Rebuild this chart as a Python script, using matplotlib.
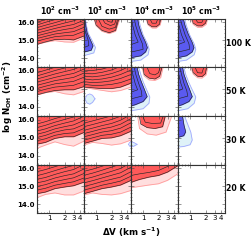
import matplotlib
matplotlib.use("Agg")
import matplotlib.pyplot as plt
from matplotlib.ticker import MultipleLocator, FixedLocator, NullFormatter

plt.rcParams['font.family'] = 'DejaVu Sans'
plt.rcParams['mathtext.default'] = 'bf'

densities = [r'10$^2$ cm$^{-3}$', r'10$^3$ cm$^{-3}$', r'10$^4$ cm$^{-3}$', r'10$^5$ cm$^{-3}$']
temperatures = ['100 K', '50 K', '30 K', '20 K']

# log N(OH) where the red sheets start, read at these line widths
DV = [0.58, 0.85, 1.3, 2.0, 3.0, 4.8]

red_edge = {
    (0, 0): [14.78, 14.91, 15.04, 15.06, 15.02, 15.24],
    (1, 0): [14.67, 14.80, 14.91, 14.95, 14.95, 15.13],
    (1, 1): [15.10, 15.06, 15.02, 15.02, 15.10, 15.32],
    (2, 0): [14.63, 14.73, 14.95, 15.04, 15.04, 15.28],
    (2, 1): [14.67, 14.80, 14.95, 14.98, 15.10, 15.35],
    (3, 0): [14.58, 14.67, 14.86, 14.95, 15.02, 15.22],
    (3, 1): [14.58, 14.71, 14.86, 14.95, 15.06, 15.32],
    (3, 2): [15.21, 15.37, 15.50, 15.59, 15.78, 16.14],
}
pink_edge = {
    (0, 0): [14.78, 14.90, 14.98, 14.91, 14.89, 15.13],
    (1, 0): [14.67, 14.79, 14.86, 14.73, 14.67, 14.86],
    (1, 1): [15.08, 15.0, 14.92, 14.84, 14.91, 15.10],
    (2, 0): [14.40, 14.58, 14.76, 14.61, 14.52, 14.80],
    (2, 1): [14.58, 14.73, 14.67, 14.58, 14.65, 14.86],
    (3, 0): [14.36, 14.54, 14.62, 14.51, 14.51, 14.73],
    (3, 1): [14.51, 14.62, 14.54, 14.51, 14.58, 14.76],
    (3, 2): [14.91, 14.98, 15.06, 15.13, 15.32, 15.69],
}
red_lines = {
    (0, 0): [[14.95, 15.08, 15.20, 15.25, 15.28, 15.50],
             [15.10, 15.22, 15.35, 15.42, 15.48, 15.72],
             [15.25, 15.37, 15.50, 15.60, 15.68, 15.92],
             [15.40, 15.52, 15.66, 15.78, 15.88, 16.12],
             [15.55, 15.68, 15.82, 15.96, 16.08, 16.30],
             [15.70, 15.84, 15.98, 16.14, 16.28, 16.50],
             [15.85, 16.00, 16.15, 16.32, 16.50, 16.70],
             [16.00, 16.15, 16.30, 16.50, 16.70, 16.90]],
    (1, 0): [[14.85, 14.98, 15.10, 15.15, 15.20, 15.40],
             [15.02, 15.15, 15.28, 15.35, 15.42, 15.65],
             [15.20, 15.32, 15.46, 15.55, 15.64, 15.88],
             [15.38, 15.50, 15.64, 15.76, 15.86, 16.10],
             [15.55, 15.68, 15.83, 15.96, 16.08, 16.32],
             [15.72, 15.86, 16.02, 16.16, 16.30, 16.50],
             [15.90, 16.04, 16.20, 16.36, 16.50, 16.70]],
    (1, 1): [[15.25, 15.20, 15.20, 15.25, 15.35, 15.55],
             [15.40, 15.35, 15.38, 15.45, 15.58, 15.80],
             [15.55, 15.50, 15.55, 15.65, 15.80, 16.05],
             [15.70, 15.67, 15.73, 15.85, 16.02, 16.30],
             [15.85, 15.84, 15.92, 16.05, 16.25, 16.50],
             [16.00, 16.02, 16.10, 16.25, 16.45, 16.70]],
    (2, 0): [[14.82, 14.93, 15.12, 15.22, 15.26, 15.50],
             [15.00, 15.12, 15.30, 15.42, 15.48, 15.72],
             [15.18, 15.30, 15.48, 15.60, 15.70, 15.95],
             [15.36, 15.48, 15.66, 15.80, 15.92, 16.18],
             [15.55, 15.68, 15.85, 16.00, 16.14, 16.40],
             [15.75, 15.88, 16.05, 16.20, 16.36, 16.60]],
    (2, 1): [[14.85, 14.98, 15.12, 15.18, 15.30, 15.58],
             [15.04, 15.16, 15.30, 15.38, 15.52, 15.82],
             [15.22, 15.34, 15.48, 15.58, 15.74, 16.05],
             [15.40, 15.52, 15.66, 15.78, 15.96, 16.28],
             [15.60, 15.72, 15.86, 16.00, 16.18, 16.50],
             [15.80, 15.92, 16.06, 16.20, 16.40, 16.70]],
    (3, 0): [[14.78, 14.88, 15.05, 15.15, 15.24, 15.45],
             [14.98, 15.08, 15.25, 15.36, 15.46, 15.70],
             [15.18, 15.28, 15.45, 15.58, 15.68, 15.95],
             [15.38, 15.48, 15.65, 15.80, 15.92, 16.20],
             [15.58, 15.70, 15.86, 16.02, 16.15, 16.45],
             [15.80, 15.92, 16.08, 16.24, 16.40, 16.70]],
    (3, 1): [[14.78, 14.90, 15.05, 15.16, 15.28, 15.55],
             [14.98, 15.10, 15.25, 15.38, 15.50, 15.80],
             [15.18, 15.30, 15.45, 15.60, 15.74, 16.05],
             [15.38, 15.50, 15.66, 15.82, 15.98, 16.30],
             [15.60, 15.72, 15.88, 16.05, 16.22, 16.55],
             [15.82, 15.94, 16.10, 16.28, 16.46, 16.80]],
    (3, 2): [[15.59, 15.68, 15.76, 15.87, 16.09, 16.40]],
}

# red clouds hanging from the top: (ΔV nodes, lower edge), faint level then bright level
blob_dv = {
    (0, 1): [0.90, 1.00, 1.30, 1.80, 2.40, 2.85],
    (0, 2): [1.15, 1.25, 1.50, 1.80, 2.10, 2.25],
    (0, 3): [1.05, 1.15, 1.40, 1.70, 2.00, 2.15],
    (1, 2): [0.97, 1.05, 1.30, 1.70, 2.10, 2.38],
    (1, 3): [1.05, 1.15, 1.40, 1.70, 2.00, 2.10],
    (2, 2): [0.83, 0.90, 1.20, 1.70, 2.40, 2.77],
}
blob_edge = {
    (0, 1): [16.3, 15.85, 15.55, 15.42, 15.55, 16.3],
    (0, 2): [16.3, 15.90, 15.75, 15.75, 15.90, 16.3],
    (0, 3): [16.3, 15.95, 15.80, 15.80, 15.95, 16.3],
    (1, 2): [16.3, 15.80, 15.60, 15.55, 15.70, 16.3],
    (1, 3): [16.3, 15.90, 15.70, 15.68, 15.85, 16.3],
    (2, 2): [16.3, 15.75, 15.55, 15.50, 15.60, 16.3],
}
blob_pink_dv = {
    (0, 1): [0.88, 1.00, 1.30, 1.80, 2.40, 3.00],
    (0, 2): [1.10, 1.25, 1.50, 1.80, 2.15, 2.35],
    (0, 3): [1.00, 1.15, 1.40, 1.70, 2.05, 2.25],
    (1, 2): [0.93, 1.05, 1.30, 1.70, 2.20, 2.50],
    (1, 3): [1.00, 1.15, 1.40, 1.70, 2.05, 2.25],
    (2, 2): [0.77, 0.85, 1.20, 1.80, 2.80, 3.74],
}
blob_pink = {
    (0, 1): [16.3, 15.80, 15.50, 15.37, 15.50, 16.3],
    (0, 2): [16.3, 15.85, 15.68, 15.68, 15.85, 16.3],
    (0, 3): [16.3, 15.88, 15.72, 15.72, 15.88, 16.3],
    (1, 2): [16.3, 15.72, 15.50, 15.47, 15.62, 16.3],
    (1, 3): [16.3, 15.82, 15.62, 15.60, 15.78, 16.3],
    (2, 2): [16.3, 15.50, 15.20, 15.13, 15.30, 16.3],
}
blob_lines = {
    (0, 1): [([1.05, 1.30, 1.80, 2.40, 2.70], [16.3, 15.78, 15.62, 15.72, 16.3]),
             ([1.25, 1.50, 1.90, 2.30, 2.55], [16.3, 15.95, 15.82, 15.90, 16.3]),
             ([1.45, 1.70, 2.00, 2.30], [16.3, 16.05, 16.00, 16.3])],
    (0, 2): [([1.30, 1.50, 1.80, 2.00], [16.3, 15.95, 15.95, 16.3])],
    (0, 3): [([1.20, 1.40, 1.70, 1.90], [16.3, 16.00, 16.00, 16.3])],
    (1, 2): [([1.15, 1.35, 1.70, 2.00, 2.20], [16.3, 15.85, 15.78, 15.90, 16.3])],
    (1, 3): [([1.20, 1.40, 1.70, 1.90], [16.3, 15.90, 15.88, 16.3])],
    (2, 2): [([0.95, 1.10, 1.50, 2.20, 2.55], [16.3, 15.85, 15.78, 15.80, 16.3])],
}

# blue regions against the left axis: (log N nodes, right edge in ΔV)
blue_n = {
    (0, 1): [16.3, 15.80, 15.40, 15.00, 14.70, 14.45, 14.30],
    (0, 2): [16.3, 15.80, 15.34, 14.88, 14.60, 14.36, 14.14, 14.00],
    (0, 3): [16.3, 15.80, 15.34, 14.88, 14.60, 14.36, 14.14, 14.00],
    (1, 2): [16.3, 15.80, 15.41, 15.00, 14.58, 14.30, 14.12, 14.00],
    (1, 3): [16.3, 15.80, 15.41, 15.00, 14.58, 14.30, 14.12, 14.00],
    (2, 3): [16.3, 15.68, 15.32, 15.10, 14.95],
}
blue_edge = {
    (0, 1): [0.60, 0.63, 0.67, 0.78, 0.87, 0.80, 0.50],
    (0, 2): [0.77, 0.83, 0.94, 1.12, 1.21, 1.12, 0.90, 0.50],
    (0, 3): [0.72, 0.80, 0.92, 1.10, 1.19, 1.10, 0.85, 0.50],
    (1, 2): [0.75, 0.82, 0.92, 1.05, 1.20, 1.00, 0.70, 0.50],
    (1, 3): [0.70, 0.76, 0.85, 0.97, 1.10, 0.95, 0.70, 0.50],
    (2, 3): [0.70, 0.76, 0.82, 0.75, 0.50],
}
cyan_n = {
    (0, 1): [16.3, 15.80, 15.40, 15.00, 14.60, 14.30, 14.10],
    (0, 2): [16.3, 15.80, 15.30, 14.80, 14.50, 14.20, 13.90, 13.80],
    (0, 3): [16.3, 15.80, 15.30, 14.80, 14.50, 14.20, 13.90, 13.80],
    (1, 2): [16.3, 15.80, 15.40, 15.00, 14.55, 14.20, 13.90, 13.75],
    (1, 3): [16.3, 15.80, 15.40, 15.00, 14.55, 14.20, 13.90, 13.75],
    (2, 3): [16.3, 15.80, 15.30, 14.86, 14.60, 14.50, 14.45],
}
cyan_edge = {
    (0, 1): [0.61, 0.65, 0.70, 0.83, 0.97, 0.90, 0.50],
    (0, 2): [0.80, 0.88, 1.00, 1.22, 1.31, 1.25, 0.90, 0.50],
    (0, 3): [0.76, 0.85, 0.98, 1.20, 1.29, 1.20, 0.85, 0.50],
    (1, 2): [0.80, 0.90, 1.00, 1.15, 1.35, 1.30, 1.00, 0.50],
    (1, 3): [0.74, 0.82, 0.93, 1.08, 1.29, 1.20, 0.90, 0.50],
    (2, 3): [0.75, 0.88, 1.03, 1.10, 1.00, 0.75, 0.50],
}
blue_lines = {
    (0, 1): [([16.3, 15.6, 15.0, 14.7, 14.55], [0.55, 0.60, 0.70, 0.72, 0.50])],
    (0, 2): [([16.3, 15.8, 15.3, 14.8, 14.5, 14.3], [0.66, 0.72, 0.82, 0.97, 1.00, 0.50]),
             ([16.3, 15.8, 15.3, 14.9, 14.7], [0.58, 0.63, 0.70, 0.80, 0.50])],
    (0, 3): [([16.3, 15.8, 15.3, 14.8, 14.5, 14.3], [0.63, 0.70, 0.80, 0.95, 0.98, 0.50]),
             ([16.3, 15.8, 15.3, 14.9, 14.7], [0.56, 0.61, 0.68, 0.78, 0.50])],
    (1, 2): [([16.3, 15.8, 15.3, 14.9, 14.6, 14.4], [0.66, 0.72, 0.82, 0.92, 0.95, 0.50]),
             ([16.3, 15.8, 15.3, 14.95, 14.75], [0.58, 0.63, 0.70, 0.78, 0.50])],
    (1, 3): [([16.3, 15.8, 15.3, 14.9, 14.6, 14.4], [0.62, 0.68, 0.76, 0.86, 0.90, 0.50]),
             ([16.3, 15.8, 15.3, 15.0, 14.8], [0.56, 0.60, 0.66, 0.72, 0.50])],
    (2, 3): [],
}

# small faint blue islands: (ΔV nodes, lower, upper)
island_dv = {(1, 1): [0.61, 0.66, 0.75, 0.85, 0.95],
             (2, 1): [4.30, 4.50, 4.80, 5.20],
             (2, 2): [0.50, 0.58, 0.66, 0.76]}
island_lo = {(1, 1): [14.43, 14.22, 14.15, 14.25, 14.45],
             (2, 1): [14.62, 14.52, 14.49, 14.50],
             (2, 2): [14.50, 14.49, 14.52, 14.62]}
island_hi = {(1, 1): [14.43, 14.65, 14.72, 14.65, 14.45],
             (2, 1): [14.62, 14.72, 14.76, 14.76],
             (2, 2): [14.76, 14.76, 14.72, 14.62]}

RED = '#ff5a5a'
PINK = '#ffdede'
PINK_LINE = '#ff9c9c'
BLUE = '#5a5af0'
CYAN = '#dff2f8'
CYAN_LINE = '#a0a8ff'
LINE = '#262626'
LW = 0.45
TOP = 16.3

fig = plt.figure(figsize=(2.52, 2.41), dpi=100)
W, H = 252.0, 241.0
x0, y0, aw, ah = 37.0, 18.7, 47.0, 48.6

for r in range(4):
    for c in range(4):
        ax = fig.add_axes([(x0 + c * aw) / W, 1 - (y0 + (r + 1) * ah) / H, aw / W, ah / H])
        key = (r, c)
        if key in island_dv:
            ax.fill_between(island_dv[key], island_lo[key], island_hi[key], color=CYAN, lw=0)
            ax.plot(island_dv[key], island_lo[key], color=CYAN_LINE, lw=0.6)
            ax.plot(island_dv[key], island_hi[key], color=CYAN_LINE, lw=0.6)
        if key in cyan_n:
            ax.fill_betweenx(cyan_n[key], 0.5, cyan_edge[key], color=CYAN, lw=0)
            ax.plot(cyan_edge[key], cyan_n[key], color=CYAN_LINE, lw=0.6)
            ax.fill_betweenx(blue_n[key], 0.5, blue_edge[key], color=BLUE, lw=0)
            ax.plot(blue_edge[key], blue_n[key], color=LINE, lw=LW)
            for nn, dd in blue_lines[key]:
                ax.plot(dd, nn, color=LINE, lw=LW)
        if key in red_edge:
            ax.fill_between(DV, pink_edge[key], TOP, color=PINK, lw=0)
            ax.plot(DV, pink_edge[key], color=PINK_LINE, lw=0.6)
            ax.fill_between(DV, red_edge[key], TOP, color=RED, lw=0)
            ax.plot(DV, red_edge[key], color=LINE, lw=LW)
            for ln in red_lines[key]:
                ax.plot(DV, ln, color=LINE, lw=LW)
        if key in blob_dv:
            ax.fill_between(blob_pink_dv[key], blob_pink[key], TOP, color=PINK, lw=0)
            ax.plot(blob_pink_dv[key], blob_pink[key], color=PINK_LINE, lw=0.6)
            ax.fill_between(blob_dv[key], blob_edge[key], TOP, color=RED, lw=0)
            ax.plot(blob_dv[key], blob_edge[key], color=LINE, lw=LW)
            for dd, nn in blob_lines[key]:
                ax.plot(dd, nn, color=LINE, lw=LW)

        ax.set_xscale('log')
        ax.set_xlim(0.58, 4.8)
        ax.set_ylim(13.5, 16.2)
        ax.xaxis.set_major_locator(FixedLocator([1, 2, 3, 4]))
        ax.xaxis.set_minor_locator(FixedLocator([0.6, 0.7, 0.8, 0.9]))
        ax.xaxis.set_minor_formatter(NullFormatter())
        ax.yaxis.set_major_locator(MultipleLocator(1.0))
        ax.yaxis.set_minor_locator(MultipleLocator(0.2))
        ax.tick_params(which='both', direction='in', top=True, right=True, width=0.4,
                       pad=1.5, color='#444444')
        ax.tick_params(which='major', length=2.2, labelsize=5)
        ax.tick_params(which='minor', length=1.0)
        for s in ax.spines.values():
            s.set_linewidth(0.8)
            s.set_color('#333333')
        if r == 3:
            ax.set_xticklabels(['1', '2', '3', '4'])
        else:
            ax.set_xticklabels([])
        if c == 0:
            ax.set_yticks([14, 15, 16])
            ax.set_yticklabels(['14.0', '15.0', '16.0'], fontweight='bold')
        else:
            ax.set_yticklabels([])
        if r == 0:
            ax.set_title(densities[c], fontsize=5.6, fontweight='bold', pad=2.5)
        if c == 3:
            ax.text(1.03, 0.5, temperatures[r], transform=ax.transAxes, fontsize=5.6,
                    fontweight='bold', va='center', ha='left')

fig.text(8 / W, 0.6, r'log N$_{OH}$ (cm$^{-2}$)', rotation=90, fontsize=6.3,
         fontweight='bold', ha='center', va='center')
fig.text(131 / W, 1 - 232 / H, r'ΔV (km s$^{-1}$)', fontsize=6.3, fontweight='bold',
         ha='center', va='center')

fig.savefig('out.png', dpi=100)
